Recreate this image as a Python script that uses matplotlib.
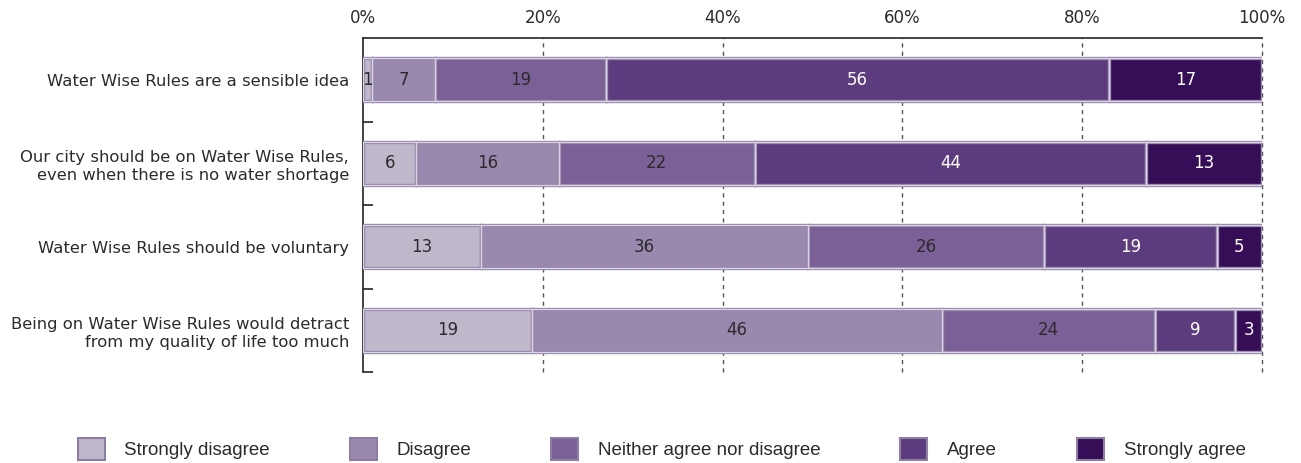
import matplotlib
matplotlib.use("Agg")
import matplotlib.pyplot as plt
import numpy as np
from matplotlib.patches import Patch

categories = [
    "Water Wise Rules are a sensible idea",
    "Our city should be on Water Wise Rules,\neven when there is no water shortage",
    "Water Wise Rules should be voluntary",
    "Being on Water Wise Rules would detract\nfrom my quality of life too much",
]
series_names = ["Strongly disagree", "Disagree", "Neither agree nor disagree", "Agree", "Strongly agree"]
strongly_disagree = [1, 6, 13, 19]
disagree = [7, 16, 36, 46]
neither = [19, 22, 26, 24]
agree = [56, 44, 19, 9]
strongly_agree = [17, 13, 5, 3]
tick_labels = ["0%", "20%", "40%", "60%", "80%", "100%"]

colors = ["#bfb8cb", "#9a89ae", "#7a6096", "#5c3c7e", "#360e57"]
text_colors = ["#2b2b2b", "#2b2b2b", "#2b2b2b", "white", "white"]

series = np.array([strongly_disagree, disagree, neither, agree, strongly_agree], dtype=float)
totals = series.sum(axis=0)
shares = series / totals * 100

fig = plt.figure(figsize=(13.01, 4.63), dpi=100)
ax = fig.add_axes([363 / 1301, 1 - 372 / 463, (1262 - 363) / 1301, (372 - 38) / 463])

y = np.arange(len(categories))
left = np.zeros(len(categories))
for i in range(len(series_names)):
    ax.barh(y, shares[i], left=left, height=0.52, color=colors[i],
            edgecolor="#9486a8", linewidth=2.4, zorder=3)
    ax.barh(y, shares[i], left=left, height=0.52, color="none",
            edgecolor="#dcd5e5", linewidth=0.9, zorder=4)
    for j in range(len(categories)):
        ax.text(left[j] + shares[i][j] / 2, y[j], f"{int(series[i][j])}",
                ha="center", va="center", fontsize=12, color=text_colors[i],
                family="DejaVu Sans", zorder=5)
    left += shares[i]

ax.set_xlim(0, 100)
ax.set_ylim(len(categories) - 0.5, -0.5)
ax.xaxis.tick_top()
ax.set_xticks(np.arange(0, 101, 20))
ax.set_xticklabels(tick_labels, fontsize=12, color="#2b2b2b")
ax.tick_params(axis="x", length=0, pad=8)
ax.set_yticks(y)
ax.set_yticklabels(categories, fontsize=11.8, color="#2b2b2b", ha="right", linespacing=1.25)
ax.tick_params(axis="y", length=0, pad=10)
ax.set_yticks(np.arange(len(categories)) + 0.5, minor=True)
ax.tick_params(axis="y", which="minor", direction="in", length=7, width=1.2, color="#222")
for xv in [20, 40, 60, 80, 100]:
    ax.axvline(xv, color="#555", linestyle=(0, (3, 3)), linewidth=1, zorder=1, clip_on=False)

ax.spines["right"].set_visible(False)
ax.spines["bottom"].set_visible(False)
ax.spines["top"].set_color("#222")
ax.spines["left"].set_color("#222")
ax.spines["top"].set_linewidth(1.2)
ax.spines["left"].set_linewidth(1.2)

handles = [Patch(facecolor=colors[i], edgecolor="#8e7ea4", linewidth=1.5) for i in range(len(series_names))]
fig.legend(handles, series_names, loc="center", bbox_to_anchor=(0.5085, 1 - 449 / 463), ncol=5,
           frameon=False, prop={"family": "Liberation Sans", "size": 13.5},
           labelcolor="#2b2b2b",
           handlelength=1.45, handleheight=1.5,
           columnspacing=4.25, handletextpad=1.05)

fig.savefig("out.png", dpi=100)
